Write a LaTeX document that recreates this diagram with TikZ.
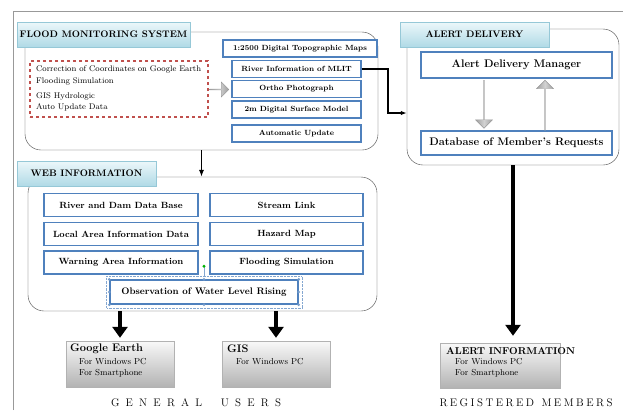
\documentclass[tikz,border=0pt]{standalone}
\usepackage{fontspec}
\usetikzlibrary{arrows.meta,shapes.arrows}
\definecolor{boxblue}{RGB}{79,129,189}
\definecolor{dashred}{RGB}{192,80,77}
\definecolor{titletop}{RGB}{236,247,250}
\definecolor{titlebottom}{RGB}{176,218,230}
\definecolor{titleline}{RGB}{150,200,215}
\begin{document}
\begin{tikzpicture}[x=1pt,y=-1pt,
  titlebox/.style={draw=titleline,top color=titletop,bottom color=titlebottom,minimum height=25pt,inner sep=0pt,font=\fontsize{9.5}{11}\selectfont\bfseries},
  infobox/.style={draw=boxblue,line width=1.4pt,fill=white,inner sep=0pt,font=\fontsize{7.5}{9}\selectfont\bfseries},
  webbox/.style={infobox,minimum height=23pt,font=\fontsize{9}{10}\selectfont\bfseries},
  groupbox/.style={draw=black!75,rounded corners=16pt,inner sep=0pt},
  userbox/.style={draw=gray!60,top color=gray!5,bottom color=gray!60,inner sep=0pt},
  greyarrow/.style={single arrow,draw=gray!80,shading=axis,left color=gray!75,right color=gray!75,middle color=gray!35,single arrow head extend=3pt,inner sep=0pt},
  tasktext/.style={anchor=west,inner sep=0pt,font=\fontsize{8.2}{10}\selectfont},
  smalltext/.style={anchor=west,inner sep=0pt,font=\fontsize{8.7}{10}\selectfont},
  usertitle/.style={anchor=west,inner sep=0pt,font=\fontsize{11}{12}\selectfont\bfseries},
  downarrow/.style={line width=4pt,-{Triangle[length=11pt,width=15pt]}}
]
\useasboundingbox (0,0) rectangle (623,410);
\draw[gray!80] (13,410) -- (13,11) -- (623,11);

% flood monitoring system
\node[groupbox,minimum width=353pt,minimum height=118pt] (flood) at (201.5,91) {};
\node[titlebox,minimum width=173pt] (floodtitle) at (103.5,34.5) {FLOOD MONITORING SYSTEM};
\node[draw=dashred,dashed,line width=1.3pt,minimum width=178pt,minimum height=56pt] (tasks) at (119,89) {};
\node[tasktext] (t1) at (36,69) {Correction of Coordinates on Google Earth};
\node[tasktext] (t2) at (36,81) {Flooding Simulation};
\node[tasktext] (t3) at (36,96) {GIS Hydrologic};
\node[tasktext] (t4) at (36,107) {Auto Update Data};
\node[greyarrow,minimum width=15pt,minimum height=19pt] (pass) at (219,89.5) {};
\node[infobox,minimum width=154pt,minimum height=17pt] (topo) at (300,48.5) {1:2500 Digital Topographic Maps};
\node[infobox,minimum width=129pt,minimum height=17pt] (river) at (296.5,69) {River Information of MLIT};
\node[infobox,minimum width=129pt,minimum height=17pt] (ortho) at (296.5,89) {Ortho Photograph};
\node[infobox,minimum width=129pt,minimum height=17pt] (dsm) at (296.5,109.5) {2m Digital Surface Model};
\node[infobox,minimum width=129pt,minimum height=17pt] (auto) at (296.5,133.5) {Automatic Update};

% alert delivery
\node[groupbox,minimum width=212pt,minimum height=136pt] (alert) at (513,97) {};
\node[titlebox,minimum width=149pt] (alerttitle) at (474.5,34.5) {ALERT DELIVERY};
\node[infobox,minimum width=191pt,minimum height=26pt,font=\fontsize{11}{13}\selectfont\bfseries] (manager) at (516.5,65) {Alert Delivery Manager};
\node[infobox,minimum width=191pt,minimum height=24pt,font=\fontsize{11}{13}\selectfont\bfseries] (database) at (516.5,143) {Database of Member's Requests};
\node[greyarrow,shape border rotate=270,minimum width=17pt,minimum height=48pt] (send) at (484,104) {};
\node[greyarrow,shape border rotate=90,minimum width=17pt,minimum height=50pt] (request) at (545,105.5) {};

\coordinate (bend) at (388,113);
\draw[line width=1.3pt,-{Latex[length=6pt]}] (river.east) -| (bend) -- (bend -| alert.west);

% web information
\node[groupbox,minimum width=349pt,minimum height=134pt] (web) at (202.5,244) {};
\node[titlebox,minimum width=139pt] (webtitle) at (86.5,173.5) {WEB INFORMATION};
\draw[line width=1.6pt,-{Latex[length=7pt]}] (flood.south) -- (flood.south |- web.north);
\node[webbox,minimum width=154pt] (dam) at (121,205) {River and Dam Data Base};
\node[webbox,minimum width=154pt] (local) at (121,234) {Local Area Information Data};
\node[webbox,minimum width=154pt] (warning) at (121,262.5) {Warning Area Information};
\node[webbox,minimum width=153pt] (stream) at (286.5,205) {Stream Link};
\node[webbox,minimum width=153pt] (hazard) at (286.5,234) {Hazard Map};
\node[webbox,minimum width=153pt] (simul) at (286.5,262.5) {Flooding Simulation};
\node[webbox,minimum width=188pt,minimum height=24pt,font=\fontsize{9.5}{11}\selectfont\bfseries] (observe) at (204,292) {Observation of Water Level Rising};
\draw[boxblue!70,densely dotted] ([shift={(-3pt,3pt)}]observe.north west) rectangle ([shift={(3pt,-3pt)}]observe.south east);
\draw[boxblue!70] ([yshift=3pt]observe.north) -- ([yshift=12pt]observe.north);
\fill[green!70!black] ([yshift=13pt]observe.north) circle (1.6pt);
\foreach \a in {north west,north,north east,east,south east,south,south west,west}
  \fill[boxblue!80] (observe.\a) circle (1.5pt);

% users
\node[userbox,minimum width=108pt,minimum height=46pt] (ge) at (120,364) {};
\node[userbox,minimum width=108pt,minimum height=46pt] (gis) at (276,364) {};
\node[userbox,minimum width=120pt,minimum height=45pt] (ainfo) at (500,365.5) {};
\draw[downarrow] (web.south -| ge.north) -- ([yshift=3pt]ge.north);
\draw[downarrow] (web.south -| gis.north) -- ([yshift=3pt]gis.north);
\draw[downarrow] (alert.south) -- ([yshift=7pt]alert.south |- ainfo.north);

\node[usertitle] (getitle) at (70,349) {Google Earth};
\node[smalltext] (ge1) at (79,362) {For Windows PC};
\node[smalltext] (ge2) at (79,373) {For Smartphone};
\node[usertitle] (gistitle) at (227,349) {GIS};
\node[smalltext] (gis1) at (236,362) {For Windows PC};
\node[usertitle,font=\fontsize{10}{12}\selectfont\bfseries] (aititle) at (446,351) {ALERT INFORMATION};
\node[smalltext] (ai1) at (455,362) {For Windows PC};
\node[smalltext] (ai2) at (455,373) {For Smartphone};

\node[inner sep=0pt,font=\fontsize{11}{12}\selectfont] (general) at (196,403)
  {\makebox[170pt][s]{G\hfil E\hfil N\hfil E\hfil R\hfil A\hfil L\hfil\hfil\hfil U\hfil S\hfil E\hfil R\hfil S}};
\node[inner sep=0pt,font=\fontsize{11}{12}\selectfont] (members) at (526,403)
  {\makebox[173pt][s]{R\hfil E\hfil G\hfil I\hfil S\hfil T\hfil E\hfil R\hfil E\hfil D\hfil\hfil\hfil M\hfil E\hfil M\hfil B\hfil E\hfil R\hfil S}};
\end{tikzpicture}
\end{document}
